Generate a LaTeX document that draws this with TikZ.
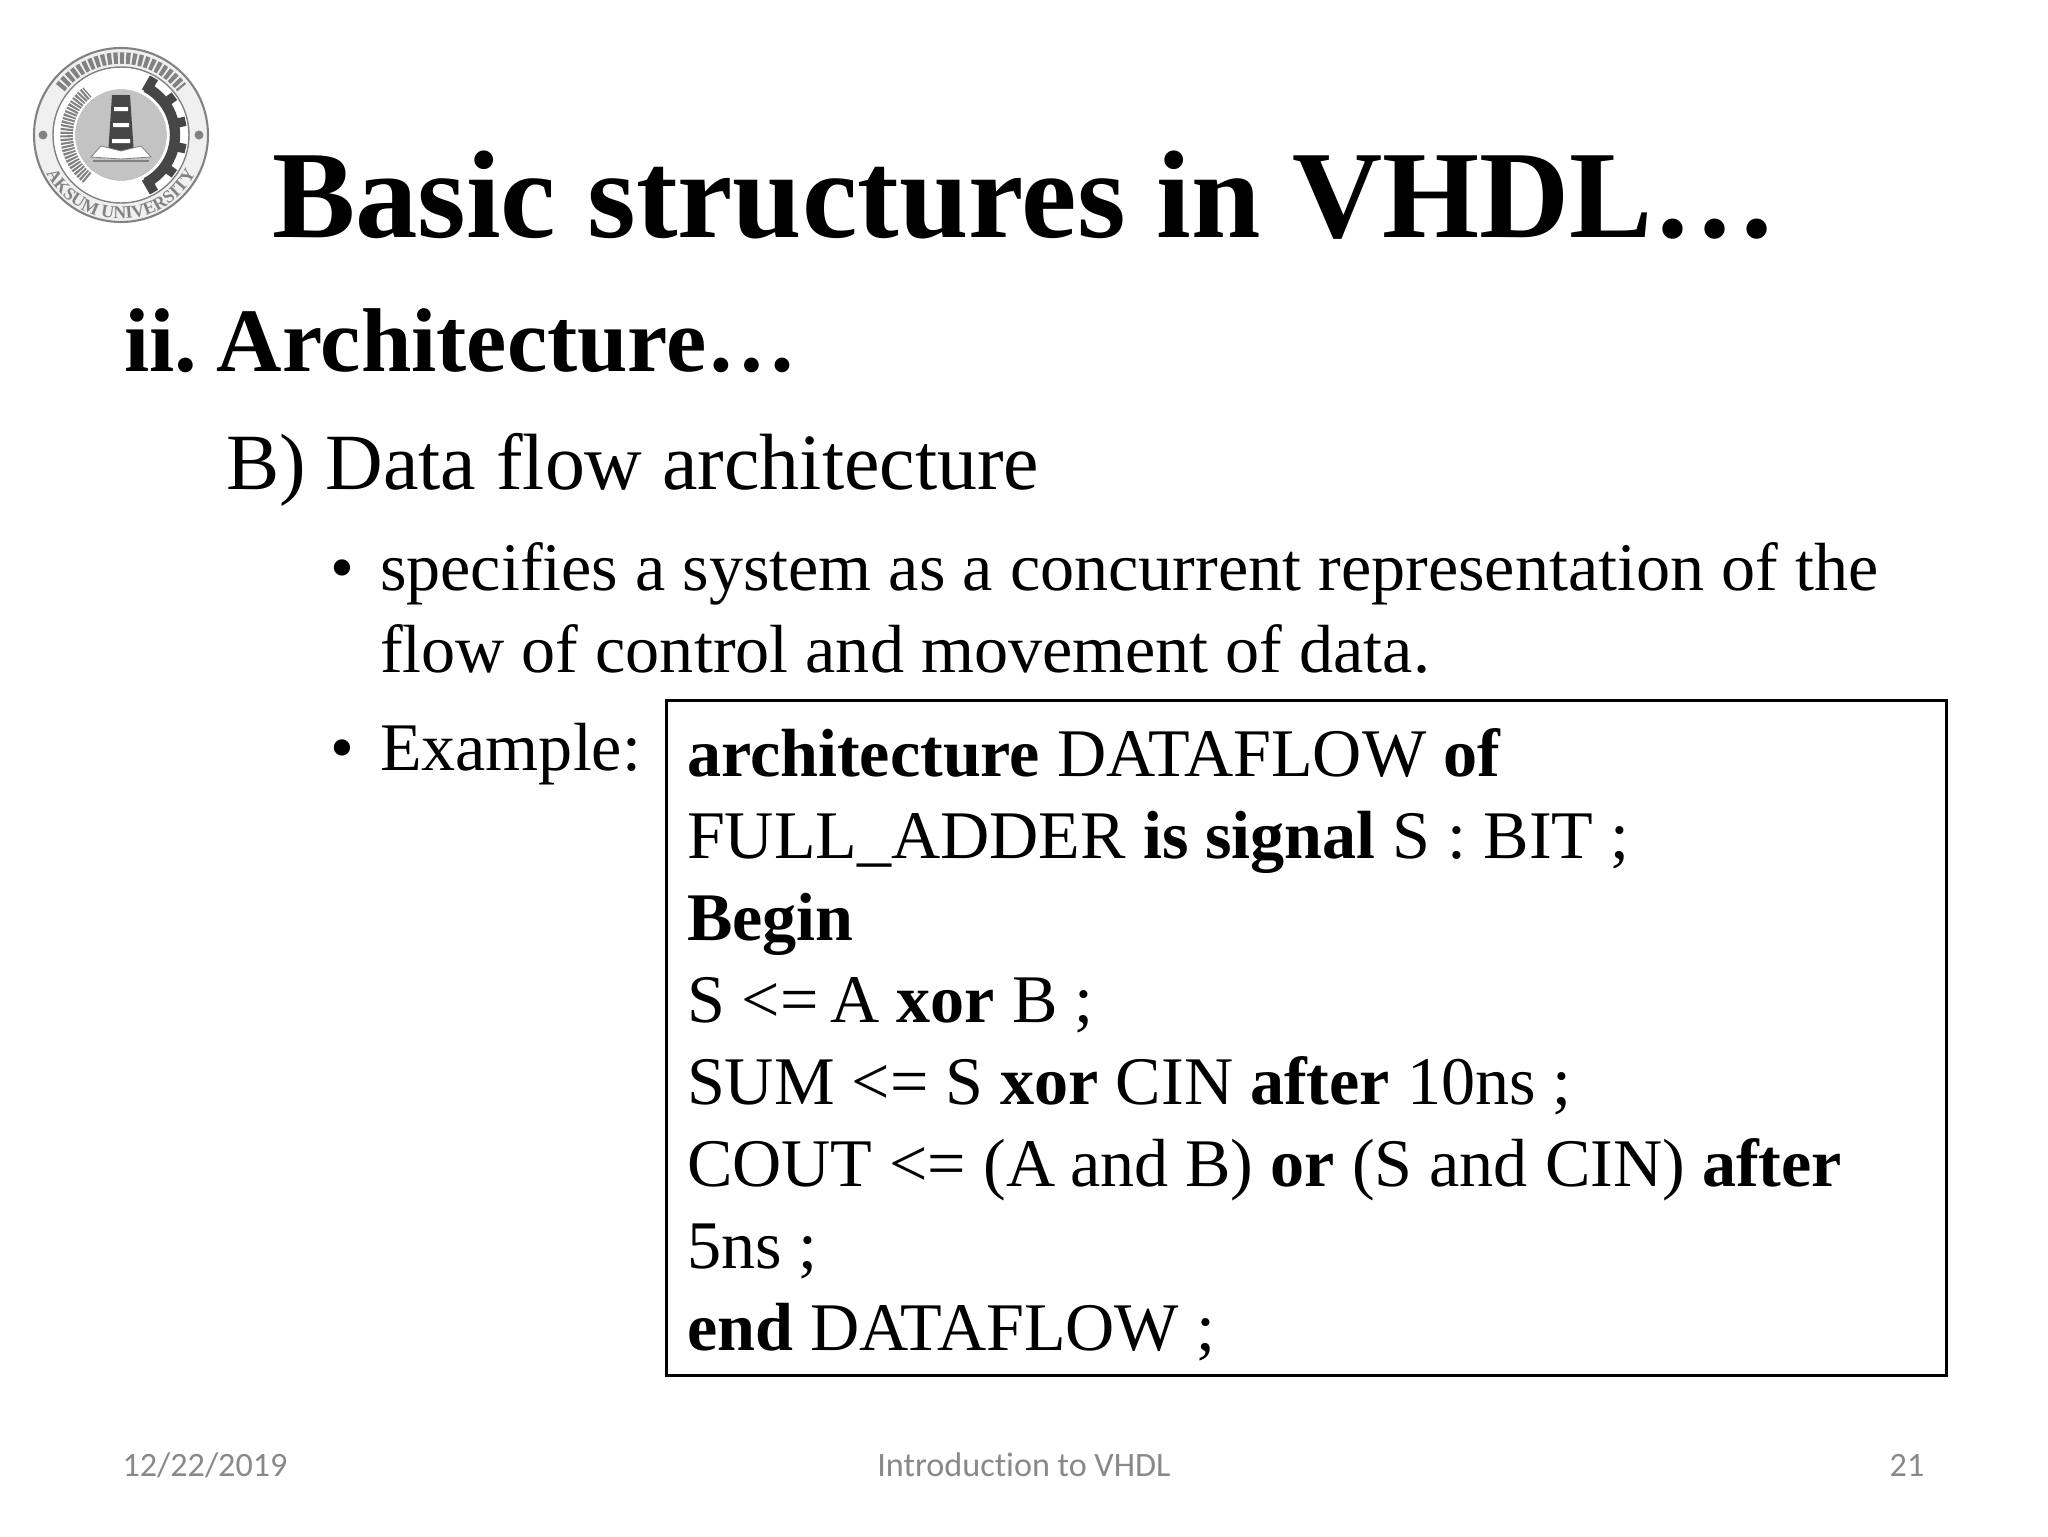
\documentclass[tikz,border=0pt]{standalone}
\usepackage{fontspec}
\usetikzlibrary{decorations.text}
\setmainfont{Liberation Serif}
\newfontfamily\footf[Ligatures=NoCommon]{Carlito}
\definecolor{foot}{RGB}{137,137,137}
\definecolor{logod}{RGB}{70,70,70}
\definecolor{logom}{RGB}{130,130,130}
\definecolor{logol}{RGB}{195,195,195}
\tikzset{
 px/.style={x=0.48pt,y=-0.48pt},
 txt/.style={anchor=base west,inner sep=0pt,outer sep=0pt},
 code/.style={txt,font=\fontsize{32.7pt}{38pt}\selectfont},
 body/.style={txt,font=\fontsize{32.7pt}{38pt}\selectfont},
 foottext/.style={anchor=base,inner sep=0pt,text=foot,font=\footf\fontsize{16.4pt}{19pt}\selectfont},
}
\begin{document}
\begin{tikzpicture}[px]
\useasboundingbox (0,0) rectangle (2048,1536);
\fill[white] (0,0) rectangle (2048,1536);
% logo
\begin{scope}[shift={(121,135)}]
\fill[gray!12] (0,0) circle[radius=87];
\draw[logom,line width=1pt] (0,0) circle[radius=87];
\draw[logom,line width=0.7pt] (0,0) circle[radius=68];
\fill[white] (0,0) circle[radius=67];
% wheat (left) and cog (right)
\draw[logom,line width=6.5pt,dash pattern=on 1pt off 0.6pt] (0,0) ++(128:54) arc[start angle=128,end angle=232,radius=54];
\draw[logod,line width=5pt] (0,0) ++(-62:54) arc[start angle=-62,end angle=62,radius=54];
\foreach \a in {-60,-36,-12,12,36,60}{\draw[logod,line width=4.5pt] (\a:50) -- (\a:66);}
% centre
\fill[logol] (0,0) circle[radius=46];
\draw[white,line width=1pt] (0,0) circle[radius=47];
\fill[logod] (-9,-40) -- (9,-40) -- (13,20) -- (-13,20) -- cycle;
\fill[white] (-7,-28) rectangle (7,-24) (-8,-12) rectangle (8,-8) (-9,4) rectangle (9,8);
\fill[white,draw=logom,line width=0.4pt] (-30,22) -- (-20,11) -- (0,16) -- (20,11) -- (30,22) -- (0,24) -- cycle;
\fill[logom] (-28,25) rectangle (28,26.5);
\fill[logom] (-78,0) circle[radius=4.5];
\fill[logom] (78,0) circle[radius=4.5];
% ring lettering
\draw[logom,line width=5.5pt,dash pattern=on 2pt off 1pt] (0,0) ++(218:77) arc[start angle=218,end angle=322,radius=77];
\path[decorate,decoration={text along path,text align=center,text={|\bfseries\fontsize{8.6pt}{9pt}\selectfont\color{logom}|AKSUM UNIVERSITY}}] (0,0) ++(165:84) arc[start angle=165,end angle=15,radius=84];
\end{scope}
\node[txt,font=\fontsize{59.9pt}{70pt}\selectfont\bfseries] (title) at (272,237) {Basic structures in VHDL…};
\node[txt,font=\fontsize{43.5pt}{50pt}\selectfont\bfseries] (sub) at (124,371) {ii.\hspace{-5pt} Architecture…};
\node[txt,font=\fontsize{38.3pt}{45pt}\selectfont] (b) at (226,489) {B) Data flow architecture};
\node[body] (b1) at (330,590) {•};
\node[body] (l1) at (380,590) {specifies a system as a concurrent representation of the};
\node[body] (l2) at (380,672) {flow of control and movement of data.};
\node[body] (b2) at (330,770) {•};
\node[body] (l3) at (380,770) {Example:};
\node[draw,line width=1.3pt,minimum width=1280*0.48pt,minimum height=675*0.48pt,anchor=north west,inner sep=0pt] (box) at (665,699) {};
\node[code] (c1) at (687,776) {\textbf{architecture} DATAFLOW \textbf{of}};
\node[code] (c2) at (687,858) {FULL\_ADDER \textbf{is signal} S : BIT ;};
\node[code] (c3) at (687,940) {\textbf{Begin}};
\node[code] (c4) at (687,1022) {S <=\kern-2.5pt{} A \textbf{xor} B ;};
\node[code] (c5) at (687,1104) {SUM <= S \textbf{xor} CIN \textbf{after} 10ns ;};
\node[code] (c6) at (687,1186) {COUT <= (A\kern-1pt{} and B) \textbf{or} (S and CIN) \textbf{after}};
\node[code] (c7) at (687,1268) {5ns ;};
\node[code] (c8) at (687,1350) {\textbf{end} DATAFLOW ;};
\node[foottext] (f1) at (205,1476) {12/22/2019};
\node[foottext] (f2) at (1024,1476) {Introduction to VHDL};
\node[foottext] (f3) at (1907,1476) {21};
\end{tikzpicture}
\end{document}
